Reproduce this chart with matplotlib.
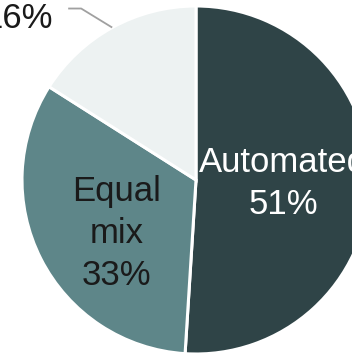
import numpy as np
import matplotlib.pyplot as plt

# Data
categories = ["Automated", "Equal\nmix", "Manual"]
shares = [51, 33, 16]
colors = ["#2f4447", "#5e8689", "#edf2f2"]
text_colors = ["white", "#1a1a1a", "#1a1a1a"]

plt.rcParams['font.family'] = ['Liberation Sans', 'DejaVu Sans']

W, H = 352, 355
fig = plt.figure(figsize=(W / 100, H / 100), dpi=100)
ax = fig.add_axes([0, 0, 1, 1])

center = (196, H - 180)
radius = 174
wedges, _ = ax.pie(shares, colors=colors, startangle=90, counterclock=False,
                   center=center, radius=radius, frame=True,
                   wedgeprops=dict(edgecolor="white", linewidth=2.2))
ax.set_xlim(0, W)
ax.set_ylim(0, H)
ax.set_aspect('equal')
ax.axis('off')

fs = 25
for i, w in enumerate(wedges):
    mid = np.deg2rad((w.theta1 + w.theta2) / 2)
    if i == 2:
        # outside label with leader line
        ex = center[0] + radius * np.cos(mid)
        ey = center[1] + radius * np.sin(mid)
        ax.plot([ex, ex - 31, ex - 44], [ey, ey + 19, ey + 19],
                color="#a0a0a0", lw=1.3, solid_capstyle='butt')
        ax.text(ex - 59, ey + 9, f"{shares[i]}%", fontsize=fs, ha="right",
                va="center", color=text_colors[i])
        continue
    r = 0.5 if i == 0 else 0.55
    x = center[0] + r * radius * np.cos(mid)
    y = center[1] + r * radius * np.sin(mid)
    if i == 1:
        x, y = x + 6, y - 10
    else:
        y = y - 1
    ax.text(x, y, f"{categories[i]}\n{shares[i]}%", fontsize=fs, ha="center",
            va="center", color=text_colors[i], linespacing=1.33)

fig.savefig("out.png", dpi=100)
